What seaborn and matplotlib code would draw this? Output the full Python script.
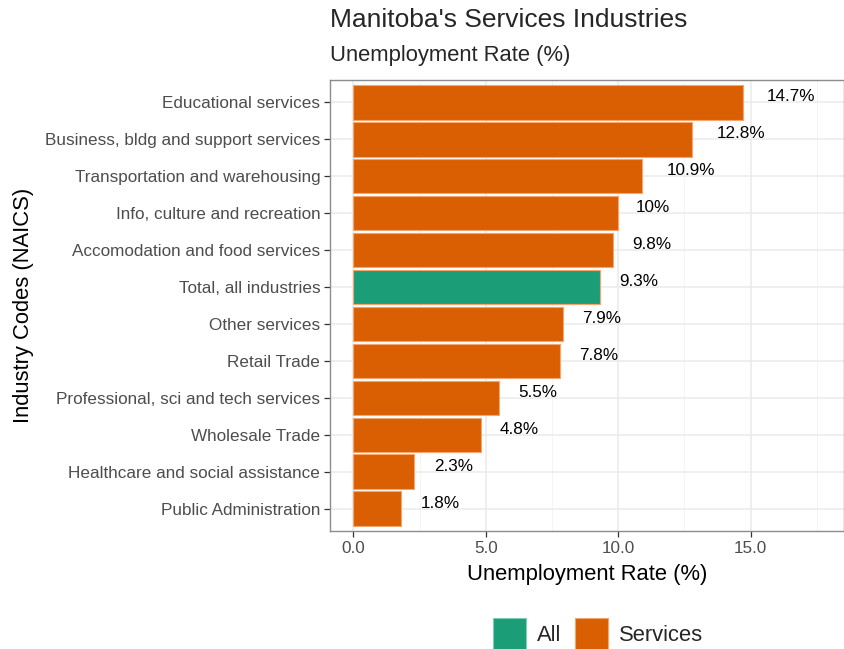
import matplotlib
matplotlib.use("Agg")
import matplotlib.pyplot as plt
import seaborn as sns
import pandas as pd
from matplotlib.patches import Patch

industries = ["Educational services", "Business, bldg and support services",
              "Transportation and warehousing", "Info, culture and recreation",
              "Accomodation and food services", "Total, all industries",
              "Other services", "Retail Trade", "Professional, sci and tech services",
              "Wholesale Trade", "Healthcare and social assistance", "Public Administration"]
rates = [14.7, 12.8, 10.9, 10.0, 9.8, 9.3, 7.9, 7.8, 5.5, 4.8, 2.3, 1.8]
labels = ["14.7%", "12.8%", "10.9%", "10%", "9.8%", "9.3%", "7.9%", "7.8%",
          "5.5%", "4.8%", "2.3%", "1.8%"]
groups = ["Services"] * 5 + ["All"] + ["Services"] * 6
xticks = [0, 5, 10, 15]
xticklabels = ["0.0", "5.0", "10.0", "15.0"]

palette = {"All": "#1B9E77", "Services": "#D95F02"}

df = pd.DataFrame({"industry": industries, "rate": rates, "group": groups})

sns.set_theme(style="white")
plt.rcParams['font.family'] = ['Liberation Sans', 'DejaVu Sans']

fig = plt.figure(figsize=(8.45, 6.49), dpi=100)
ax = fig.add_axes([330/845, 1-531/649, (844-330)/845, (531-80)/649])

sns.barplot(data=df, y="industry", x="rate", hue="group", palette=palette,
            order=industries, hue_order=["All", "Services"], dodge=False,
            width=0.94, edgecolor="#F4A46E", linewidth=0.8, ax=ax, legend=False,
            saturation=1, zorder=3)

xmax = max(rates) * 1.2
pad = xmax * 0.05
ax.set_xlim(-pad, xmax + pad)
ax.set_ylim(len(industries) - 1 + 0.6, -0.6)

ax.set_xticks(xticks)
ax.set_xticklabels(xticklabels)
ax.set_xticks([2.5, 7.5, 12.5, 17.5], minor=True)
ax.grid(True, which="major", color="#EBEBEB", linewidth=1.1, zorder=0)
ax.grid(True, which="minor", axis="x", color="#F2F2F2", linewidth=0.6, zorder=0)
ax.set_axisbelow(True)

for s in ax.spines.values():
    s.set_color("#8C8C8C")
    s.set_linewidth(1.0)

ax.tick_params(axis="both", which="major", length=4, width=0.9, color="#333333",
               labelsize=12.3, labelcolor="#4D4D4D", pad=3, direction="out",
               bottom=True, left=True)
ax.tick_params(axis="x", which="minor", length=0)

ax.set_xlabel("Unemployment Rate (%)", fontsize=15.8, color="black", labelpad=6)
ax.set_ylabel("Industry Codes (NAICS)", fontsize=15.8, color="black", labelpad=8)

fig.canvas.draw()
renderer = fig.canvas.get_renderer()
for i, (v, lab) in enumerate(zip(rates, labels)):
    t = ax.annotate(lab, xy=(v, i), xytext=(0, 4), textcoords="offset points",
                    ha="left", va="center", fontsize=12.3, color="black", zorder=5)
    w = t.get_window_extent(renderer).width
    t.set_position((0.5 * w * 72 / fig.dpi, 4))

fig.text(330/845, 1-20/649, "Manitoba's Services Industries", fontsize=19,
         ha="left", va="center")
fig.text(330/845, 1-56/649, "Unemployment Rate (%)", fontsize=15.8,
         ha="left", va="center")

handles = [Patch(facecolor=palette["All"], edgecolor="#7FCDB5", linewidth=0.8),
           Patch(facecolor=palette["Services"], edgecolor="#F4A46E", linewidth=0.8)]
fig.legend(handles, ["All", "Services"], loc="center", bbox_to_anchor=(598/845, 1-634/649),
           ncol=2, frameon=False, fontsize=15.8, handlelength=1.5, handleheight=1.9,
           handletextpad=0.5, columnspacing=0.6, borderpad=0)

fig.savefig("out.png", dpi=100)
